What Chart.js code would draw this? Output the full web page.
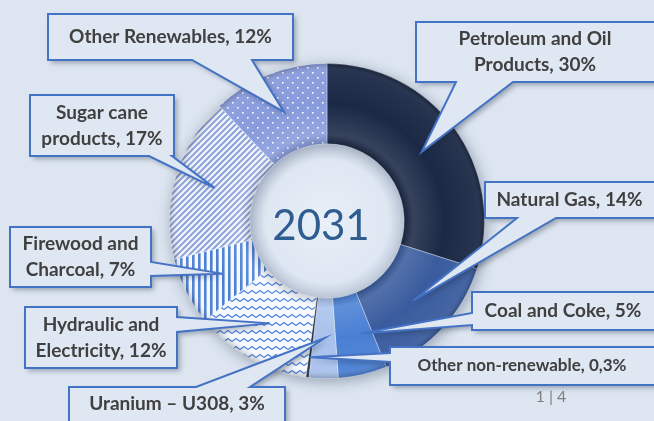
<!DOCTYPE html>
<html>
<head>
<meta charset="utf-8">
<script src="https://cdn.jsdelivr.net/npm/chart.js@4.4.1/dist/chart.umd.min.js"></script>
<style>
  html, body { margin: 0; padding: 0; background: #dce5f0; }
  #wrap { width: 654px; height: 421px; position: relative; }
</style>
</head>
<body>
<div id="wrap"><canvas id="matrixChart"></canvas></div>
<script>
// energy matrix 2031, shares in %
const categories = [
    'Petroleum and Oil Products', 'Natural Gas', 'Coal and Coke', 'Uranium – U308',
    'Other non-renewable', 'Hydraulic and Electricity', 'Firewood and Charcoal',
    'Sugar cane products', 'Other Renewables'
];
const shares = [30, 14, 5, 3, 0.3, 12, 7, 17, 12];
// label text split in lines, the share gets appended to the last line
const labelLines = [
    ['Petroleum and Oil', 'Products'],
    ['Natural Gas'],
    ['Coal and Coke'],
    ['Uranium – U308'],
    ['Other non-renewable'],
    ['Hydraulic and', 'Electricity'],
    ['Firewood and', 'Charcoal'],
    ['Sugar cane', 'products'],
    ['Other Renewables']
];
const centerLabel = '2031';
const pageLabel = '1 | 4';

// callout boxes: x, y, w, h, side where the pointer leaves, pointer base (a,b)
const boxes = [
    { x: 416, y: 22, w: 250, h: 60, side: 'bottom', a: 456, b: 513, size: 19 },
    { x: 485, y: 182, w: 180, h: 36, side: 'bottom', a: 517, b: 556, size: 19 },
    { x: 472, y: 292, w: 190, h: 38, side: 'left', a: 313, b: 325, size: 19, f: 0.3 },
    { x: 69, y: 387, w: 216, h: 50, side: 'top', a: 196, b: 250, size: 19 },
    { x: 390, y: 347, w: 270, h: 38, side: 'left', a: 353, b: 362, size: 17, g: 0.75 },
    { x: 25, y: 307, w: 152, h: 61, side: 'right', a: 317, b: 332, size: 19 },
    { x: 10, y: 227, w: 141, h: 60, side: 'right', a: 262, b: 276, size: 19 },
    { x: 30, y: 95, w: 144, h: 61, side: 'bottom', a: 149, b: 172, size: 19 },
    { x: 48, y: 14, w: 245, h: 46, side: 'bottom', a: 192, b: 252, size: 19 }
];

function makePattern(w, h, draw) {
    const c = document.createElement('canvas');
    c.width = w; c.height = h;
    const g = c.getContext('2d');
    draw(g, w, h);
    return g.createPattern(c, 'repeat');
}

const dots = makePattern(10, 10, (g, w, h) => {
    g.fillStyle = '#889bdc'; g.fillRect(0, 0, w, h);
    g.fillStyle = '#ffffff';
    g.fillRect(2, 2, 1.6, 1.6); g.fillRect(7, 7, 1.6, 1.6);
});
const diagStripes = makePattern(6, 6, (g, w, h) => {
    g.fillStyle = '#eef2fa'; g.fillRect(0, 0, w, h);
    g.strokeStyle = '#8299d8'; g.lineWidth = 1.8;
    g.beginPath();
    g.moveTo(-1, 7); g.lineTo(7, -1);
    g.moveTo(-4, 4); g.lineTo(4, -4);
    g.moveTo(2, 10); g.lineTo(10, 2);
    g.stroke();
});
const vertStripes = makePattern(6, 6, (g, w, h) => {
    g.fillStyle = '#f5f8fd'; g.fillRect(0, 0, w, h);
    g.fillStyle = '#4a7ed6'; g.fillRect(0, 0, 2.6, h);
});
const waves = makePattern(8, 8, (g, w, h) => {
    g.fillStyle = '#f5f8fd'; g.fillRect(0, 0, w, h);
    g.strokeStyle = '#4a7ed6'; g.lineWidth = 1.4;
    g.beginPath();
    g.moveTo(0, 5.5); g.lineTo(4, 2.5); g.lineTo(8, 5.5);
    g.stroke();
});

const sliceColors = [
    '#1b2946', '#3a5c9e', '#4a80d4', '#a9c2ec', '#232b3a',
    waves, vertStripes, diagStripes, dots
];

// soft shadow under the ring
const ringShadow = {
    id: 'ringShadow',
    beforeDatasetsDraw(chart) {
        const arc = chart.getDatasetMeta(0).data[0];
        if (!arc) return;
        const { x, y, innerRadius, outerRadius } = arc.getProps(['x', 'y', 'innerRadius', 'outerRadius']);
        const ctx = chart.ctx;
        ctx.save();
        ctx.shadowColor = 'rgba(40,55,80,0.4)';
        ctx.shadowBlur = 14;
        ctx.shadowOffsetX = 2;
        ctx.shadowOffsetY = 3;
        ctx.fillStyle = '#c9d4e4';
        ctx.beginPath();
        ctx.arc(x, y, outerRadius, 0, Math.PI * 2);
        ctx.arc(x, y, innerRadius, 0, Math.PI * 2, true);
        ctx.fill();
        ctx.restore();
    },
    afterDatasetsDraw(chart) {
        // a bit of bevel light on the ring
        const arc = chart.getDatasetMeta(0).data[0];
        const { x, y, innerRadius, outerRadius } = arc.getProps(['x', 'y', 'innerRadius', 'outerRadius']);
        const ctx = chart.ctx;
        const grad = ctx.createRadialGradient(x, y, innerRadius, x, y, outerRadius);
        grad.addColorStop(0, 'rgba(0,0,0,0.15)');
        grad.addColorStop(0.12, 'rgba(255,255,255,0.12)');
        grad.addColorStop(0.5, 'rgba(255,255,255,0)');
        grad.addColorStop(0.9, 'rgba(255,255,255,0.05)');
        grad.addColorStop(1, 'rgba(0,0,0,0.2)');
        ctx.save();
        ctx.fillStyle = grad;
        ctx.beginPath();
        ctx.arc(x, y, outerRadius, 0, Math.PI * 2);
        ctx.arc(x, y, innerRadius, 0, Math.PI * 2, true);
        ctx.fill();
        // inner hole, lighter in the middle
        const hole = ctx.createRadialGradient(x, y, 0, x, y, innerRadius);
        hole.addColorStop(0, 'rgba(235,241,249,0.9)');
        hole.addColorStop(0.8, 'rgba(225,233,244,0.5)');
        hole.addColorStop(1, 'rgba(150,165,190,0.25)');
        ctx.fillStyle = hole;
        ctx.beginPath();
        ctx.arc(x, y, innerRadius, 0, Math.PI * 2);
        ctx.fill();
        ctx.restore();
    }
};

function calloutPath(ctx, b, tx, ty) {
    const x1 = b.x, y1 = b.y, x2 = b.x + b.w, y2 = b.y + b.h;
    ctx.beginPath();
    ctx.moveTo(x1, y1);
    if (b.side === 'top') { ctx.lineTo(b.a, y1); ctx.lineTo(tx, ty); ctx.lineTo(b.b, y1); }
    ctx.lineTo(x2, y1);
    if (b.side === 'right') { ctx.lineTo(x2, b.a); ctx.lineTo(tx, ty); ctx.lineTo(x2, b.b); }
    ctx.lineTo(x2, y2);
    if (b.side === 'bottom') { ctx.lineTo(b.b, y2); ctx.lineTo(tx, ty); ctx.lineTo(b.a, y2); }
    ctx.lineTo(x1, y2);
    if (b.side === 'left') { ctx.lineTo(x1, b.b); ctx.lineTo(tx, ty); ctx.lineTo(x1, b.a); }
    ctx.closePath();
}

const callouts = {
    id: 'callouts',
    afterDraw(chart) {
        const ctx = chart.ctx;
        const meta = chart.getDatasetMeta(0);
        const first = meta.data[0].getProps(['x', 'y', 'innerRadius']);

        // year in the hole
        ctx.save();
        ctx.fillStyle = '#2f5d90';
        ctx.font = '42px Lato';
        ctx.textAlign = 'center';
        ctx.textBaseline = 'middle';
        ctx.fillText(centerLabel, first.x - 6, first.y + 5);
        ctx.restore();

        meta.data.forEach((arc, i) => {
            const b = boxes[i];
            const p = arc.getProps(['x', 'y', 'startAngle', 'endAngle', 'innerRadius', 'outerRadius']);
            const f = b.f ?? 0.5, g = b.g ?? 0.5;
            const ang = p.startAngle + f * (p.endAngle - p.startAngle);
            const r = p.innerRadius + g * (p.outerRadius - p.innerRadius);
            const tx = p.x + Math.cos(ang) * r;
            const ty = p.y + Math.sin(ang) * r;

            ctx.save();
            ctx.shadowColor = 'rgba(30,40,60,0.35)';
            ctx.shadowBlur = 5;
            ctx.shadowOffsetX = 3;
            ctx.shadowOffsetY = 3;
            calloutPath(ctx, b, tx, ty);
            ctx.fillStyle = '#dfe7f2';
            ctx.fill();
            ctx.restore();

            ctx.save();
            calloutPath(ctx, b, tx, ty);
            ctx.strokeStyle = '#4472c4';
            ctx.lineWidth = 2;
            ctx.lineJoin = 'miter';
            ctx.stroke();

            const lines = labelLines[i].slice();
            lines[lines.length - 1] += ', ' + String(shares[i]).replace('.', ',') + '%';
            ctx.fillStyle = '#404040';
            ctx.font = 'bold ' + b.size + 'px Lato';
            ctx.textAlign = 'center';
            ctx.textBaseline = 'middle';
            const lh = 26;
            const cx = Math.min(b.x + b.w / 2, (b.x + 654) / 2);
            const cy = Math.min(b.y + b.h / 2, (b.y + 421) / 2);
            lines.forEach((ln, k) => {
                ctx.fillText(ln, cx, cy + (k - (lines.length - 1) / 2) * lh);
            });
            ctx.restore();
        });

        ctx.save();
        ctx.fillStyle = '#7f7f7f';
        ctx.font = '16px Lato';
        ctx.textAlign = 'center';
        ctx.textBaseline = 'middle';
        ctx.fillText(pageLabel, 551, 397);
        ctx.restore();
    }
};

const ctx1 = document.getElementById('matrixChart').getContext('2d');
const myChart = new Chart(ctx1, {
    type: 'doughnut',
    data: {
        labels: categories,
        datasets: [{
            data: shares,
            backgroundColor: sliceColors,
            borderColor: 'rgba(255,255,255,0.35)',
            borderWidth: 1
        }]
    },
    options: {
        responsive: true,
        maintainAspectRatio: false,
        animation: false,
        cutout: '49%',
        layout: {
            padding: { top: 63, bottom: 42, left: 169, right: 169 }
        },
        plugins: {
            legend: { display: false },
            tooltip: { enabled: false }
        }
    },
    plugins: [ringShadow, callouts]
});
</script>
</body>
</html>
